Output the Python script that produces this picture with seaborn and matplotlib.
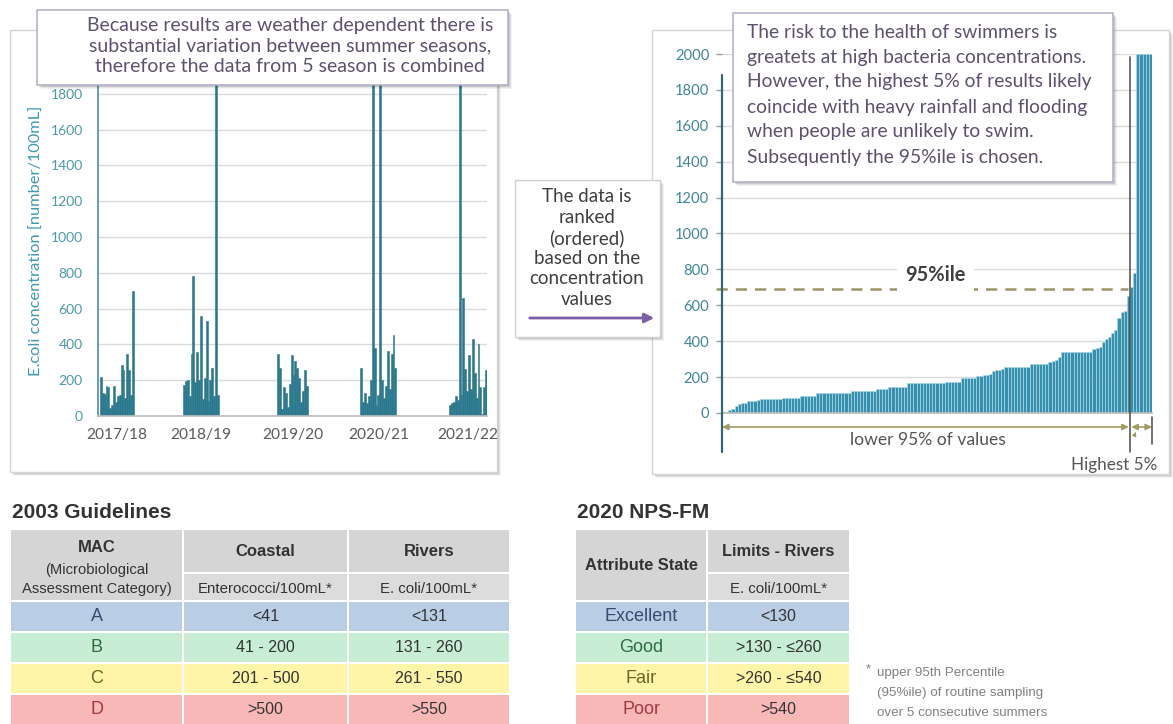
import numpy as np
import pandas as pd
import matplotlib
matplotlib.use("Agg")
import matplotlib.pyplot as plt
import seaborn as sns
from matplotlib.patches import Rectangle

# ---------------- data ----------------
seasons = ["2017/18", "2018/19", "2019/20", "2020/21", "2021/22"]
season_start_index = [1, 45, 95, 139, 186]
# E.coli results per sample (values above the axis cap shown as 2000)
ecoli_2017_18 = [220, 130, 125, 165, 160, 45, 60, 165, 80, 110, 115, 285, 255, 100, 345, 255, 120, 700]
ecoli_2018_19 = [175, 195, 200, 110, 345, 780, 190, 360, 200, 560, 95, 210, 530, 85, 200, 270, 110, 2000, 120]
ecoli_2019_20 = [345, 270, 40, 160, 130, 50, 180, 340, 230, 310, 270, 210, 80, 140, 255, 170]
ecoli_2020_21 = [270, 80, 130, 70, 110, 200, 2000, 380, 60, 120, 2000, 200, 100, 170, 365, 150, 345, 450, 270]
ecoli_2021_22 = [60, 70, 80, 110, 90, 2000, 120, 660, 260, 140, 340, 150, 430, 240, 100, 400, 160, 10, 160, 255]
season_values = [ecoli_2017_18, ecoli_2018_19, ecoli_2019_20, ecoli_2020_21, ecoli_2021_22]

ranked_values = [
    5, 8, 15, 25, 40, 50, 55, 55, 65, 65, 65, 70,
    80, 80, 80, 80, 80, 80, 80,
    85, 85, 85, 85, 85, 85,
    95, 95, 95, 95, 95,
    110, 110, 110, 110, 110, 110, 110, 110, 110, 110, 110,
    125, 125, 125, 125, 125, 125, 125, 125,
    135, 135, 135, 135,
    145, 145, 145, 145, 145, 145,
    165, 165, 165, 165, 165, 165, 165, 165, 165, 165, 165, 165,
    175, 175, 175, 175, 175,
    195, 195, 195, 195, 195,
    205, 205, 210, 210, 215,
    235, 240, 240, 245,
    255, 255, 255, 255, 255, 255, 255, 255,
    275, 275, 275, 275, 275, 275,
    285, 290, 295, 310,
    340, 340, 340, 340, 340, 340, 340, 340, 340, 340,
    355, 360, 365,
    395, 410, 425, 445, 460,
    530, 560, 570, 650,
    700, 780, 2000, 2000, 2000, 2000, 2000,
]
percentile_95 = 690
y_ticks_left = [0, 200, 400, 600, 800, 1000, 1200, 1400, 1600, 1800]
y_ticks_right = [0, 200, 400, 600, 800, 1000, 1200, 1400, 1600, 1800, 2000]

left_note = ["Because results are weather dependent there is",
             "substantial variation between summer seasons,",
             "therefore the data from 5 season is combined"]
right_note = ["The risk to the health of swimmers is",
              "greatets at high bacteria concentrations.",
              "However, the highest 5% of results likely",
              "coincide with heavy rainfall and flooding",
              "when people are unlikely to swim.",
              "Subsequently the 95%ile is chosen."]
middle_note = ["The data is", "ranked", "(ordered)", "based on the", "concentration", "values"]

mac_categories = ["A", "B", "C", "D"]
coastal_limits = ["<41", "41 - 200", "201 - 500", ">500"]
rivers_limits_2003 = ["<131", "131 - 260", "261 - 550", ">550"]
attribute_states = ["Excellent", "Good", "Fair", "Poor"]
rivers_limits_2020 = ["<130", ">130 - \u2264260", ">260 - \u2264540", ">540"]
footnote = ["upper 95th Percentile", "(95%ile) of routine sampling", "over 5 consecutive summers"]

# ---------------- style ----------------
sns.set_theme(style="white")
plt.rcParams["font.family"] = ["Lato", "DejaVu Sans"]
TABLE_FONT = ["Liberation Sans", "DejaVu Sans"]

W, H = 1173, 724
fig = plt.figure(figsize=(W / 100, H / 100), dpi=100)
fig.patch.set_facecolor("white")


def fx(px):
    return px / W


def fy(py):
    return 1 - py / H


def overlay(z):
    a = fig.add_axes([0, 0, 1, 1], zorder=z)
    a.set_xlim(0, W)
    a.set_ylim(H, 0)
    a.axis("off")
    return a


def box(a, x0, y0, x1, y1, ec, lw=1.0, shadow=True):
    if shadow:
        for k, al in ((4, 0.05), (3, 0.07), (2, 0.09)):
            a.add_patch(Rectangle((x0 + k, y0 + k), x1 - x0, y1 - y0, fc="black",
                                  alpha=al, ec="none", lw=0))
    a.add_patch(Rectangle((x0, y0), x1 - x0, y1 - y0, fc="white", ec=ec, lw=lw))


bg = overlay(-5)
box(bg, 10, 30, 497, 472, "#d4d4d4")
box(bg, 652, 30, 1169, 474, "#d4d4d4")

teal = "#2a788e"
teal_light = "#3690ad"
grid_c = "#dadada"

# ---------------- left chart ----------------
rows = []
for name, start, vals in zip(seasons, season_start_index, season_values):
    for i, v in enumerate(vals):
        rows.append((start + i, v, name))
df_left = pd.DataFrame(rows, columns=["idx", "value", "season"])

ax1 = fig.add_axes([fx(98), fy(416), (487 - 98) / W, (416 - 58) / H], zorder=1)
ax1.set_facecolor("none")
sns.barplot(data=df_left, x="idx", y="value", native_scale=True, color=teal,
            width=1.0, errorbar=None, saturation=1, edgecolor=teal, linewidth=0.4, ax=ax1)
ax1.set_xlim(-0.5, 205.5)
ax1.set_ylim(0, 2000)
ax1.set_yticks(y_ticks_left)
ax1.set_yticklabels([str(v) for v in y_ticks_left])
centers = [s + (len(v) - 1) / 2 for s, v in zip(season_start_index, season_values)]
ax1.set_xticks(centers)
ax1.set_xticklabels(seasons)
ax1.tick_params(axis="y", length=0, pad=11, labelsize=10, labelcolor="#4c98aa")
ax1.tick_params(axis="x", length=0, pad=9, labelsize=11.2, labelcolor="#5a5a5a")
ax1.yaxis.grid(True, color=grid_c, lw=1)
ax1.set_axisbelow(True)
for s in ["top", "right"]:
    ax1.spines[s].set_visible(False)
ax1.spines["left"].set_color("#4a90a2")
ax1.spines["left"].set_linewidth(1.2)
ax1.spines["bottom"].set_color("#bdbdbd")
ax1.set_xlabel("")
ax1.set_ylabel("E.coli concentration [number/100mL]", fontsize=11.8, color="#3f9ab0")
ax1.yaxis.set_label_coords((44 - 98) / (487 - 98), 0.49)

# ---------------- right chart ----------------
n = len(ranked_values)
split = int(round(0.95 * n))
df_right = pd.DataFrame({"rank": list(range(n)), "value": ranked_values})
ax2 = fig.add_axes([fx(722), fy(413), (1152 - 722) / W, (413 - 54) / H], zorder=1)
ax2.set_facecolor("none")
sns.barplot(data=df_right, x="rank", y="value", color=teal_light, width=1.0,
            errorbar=None, saturation=1, edgecolor="#a9d7e6", linewidth=0.5, ax=ax2)
ax2.set_xlim(-0.5, n - 0.5)
ax2.set_ylim(0, 2000)
ax2.set_yticks(y_ticks_right)
ax2.set_yticklabels([str(v) for v in y_ticks_right])
ax2.set_xticks([])
ax2.tick_params(axis="y", length=4, width=1, color="#9a9a9a", left=True, pad=5,
                labelsize=10.6, labelcolor="#3f8599")
ax2.yaxis.grid(True, color=grid_c, lw=1)
ax2.set_axisbelow(True)
for s in ["top", "right", "left"]:
    ax2.spines[s].set_visible(False)
ax2.spines["bottom"].set_color("#bdbdbd")
ax2.set_xlabel("")
ax2.set_ylabel("")

olive = "#a39c62"
ax2.plot([-0.5, -0.5], [-215, 1885], color="#2f6876", lw=1.6, clip_on=False, zorder=5)
ax2.plot([split - 0.5, split - 0.5], [-220, 1985], color="#4a4a4a", lw=1.1, clip_on=False, zorder=5)
ax2.plot([n - 0.5, n - 0.5], [-25, -170], color="#4a4a4a", lw=1.1, clip_on=False, zorder=5)
ax2.plot([-2.5, split - 1.2], [percentile_95, percentile_95], color="#9c9466", lw=1.8,
         dashes=(4.5, 3.2), clip_on=False, zorder=4)
ax2.text((split - 1) / 2 + 3, 770, "95%ile", ha="center", va="center", fontsize=14.4,
         fontweight="bold", color="#3f3f3f",
         bbox=dict(fc="white", ec="none", pad=6), zorder=6)
arrow_kw = dict(arrowstyle="<|-|>", color=olive, lw=1.2, shrinkA=0, shrinkB=0, mutation_scale=9)
ax2.annotate("", xy=(-0.5, -78), xytext=(split - 0.9, -78), arrowprops=arrow_kw,
             annotation_clip=False)
ax2.annotate("", xy=(split - 0.1, -78), xytext=(n - 0.5, -78), arrowprops=arrow_kw,
             annotation_clip=False)
ax2.annotate("", xy=(split + 1.6, -90), xytext=(split + 0.6, -140),
             arrowprops=dict(arrowstyle="-|>", color=olive, lw=0.8, mutation_scale=6),
             annotation_clip=False)
ax2.text((split - 1) / 2 + 0.5, -152, "lower 95% of values", ha="center", va="center",
         fontsize=12.6, color="#555555", clip_on=False)
ax2.text(n + 1.2, -292, "Highest 5%", ha="right", va="center", fontsize=12.3,
         color="#555555", clip_on=False)

# ---------------- foreground notes ----------------
fg = overlay(10)
note_c = "#5d5070"
box(fg, 37, 10, 508, 85, "#b3abc8", lw=1.1)
for i, line in enumerate(left_note):
    fg.text(290, 25 + i * 21, line, ha="center", va="center", fontsize=14, color=note_c)
box(fg, 733, 13, 1113, 182, "#b3abc8", lw=1.1)
for i, line in enumerate(right_note):
    fg.text(747, 32 + i * 25, line, ha="left", va="center", fontsize=13.9, color=note_c)
box(fg, 515, 180, 660, 337, "#cfcfcf", lw=1.0)
for i, line in enumerate(middle_note):
    fg.text(587, 197 + i * 20.5, line, ha="center", va="center", fontsize=13.5, color="#3f3f3f")
fg.annotate("", xy=(657, 318), xytext=(527, 318),
            arrowprops=dict(arrowstyle="-|>", color="#7b5da8", lw=2, mutation_scale=14))

# ---------------- tables ----------------
hdr_c = "#d5d5d5"
sub_c = "#dcdcdc"
row_colors = ["#b9cde5", "#c7eed5", "#fff5a8", "#f8b8b8"]
cat_text_colors = ["#364b70", "#2f6a3f", "#6b6428", "#9c3c3c"]
row_tops = [602, 633, 664, 695]
row_h = 29
g = 1.0


def cell(x0, x1, y0, y1, color):
    fg.add_patch(Rectangle((x0 + g, y0), x1 - x0 - 2 * g, y1 - y0, fc=color, ec="none"))


def ttext(x, y, s, size=11, bold=False, color="#333333"):
    fg.text(x, y, s, ha="center", va="center", fontsize=size,
            fontweight="bold" if bold else "normal", color=color, family=TABLE_FONT)


fg.text(12, 513, "2003 Guidelines", ha="left", va="center", fontsize=15, fontweight="bold",
        color="#333333", family=TABLE_FONT)
fg.text(577, 513, "2020 NPS-FM", ha="left", va="center", fontsize=15, fontweight="bold",
        color="#333333", family=TABLE_FONT)

# table 1
c1 = [10, 183, 348, 510]
cell(c1[0], c1[1], 530, 600, hdr_c)
for j in (1, 2):
    cell(c1[j], c1[j + 1], 530, 572, hdr_c)
    cell(c1[j], c1[j + 1], 574, 600, sub_c)
ttext((c1[0] + c1[1]) / 2, 547, "MAC", 12, True)
ttext((c1[0] + c1[1]) / 2, 570, "(Microbiological", 10.6)
ttext((c1[0] + c1[1]) / 2, 589, "Assessment Category)", 10.6)
ttext((c1[1] + c1[2]) / 2, 552, "Coastal", 12, True)
ttext((c1[1] + c1[2]) / 2, 589, "Enterococci/100mL*", 10.8)
ttext((c1[2] + c1[3]) / 2, 552, "Rivers", 12, True)
ttext((c1[2] + c1[3]) / 2, 589, "E. coli/100mL*", 10.8)
for i in range(4):
    y0 = row_tops[i]
    for j in range(3):
        cell(c1[j], c1[j + 1], y0, y0 + row_h, row_colors[i])
    yc = y0 + row_h / 2
    ttext((c1[0] + c1[1]) / 2, yc, mac_categories[i], 13, color=cat_text_colors[i])
    ttext((c1[1] + c1[2]) / 2, yc, coastal_limits[i], 11.5)
    ttext((c1[2] + c1[3]) / 2, yc, rivers_limits_2003[i], 11.5)

# table 2
c2 = [575, 707, 850]
cell(c2[0], c2[1], 530, 600, hdr_c)
cell(c2[1], c2[2], 530, 572, hdr_c)
cell(c2[1], c2[2], 574, 600, sub_c)
ttext((c2[0] + c2[1]) / 2, 565, "Attribute State", 11.8, True)
ttext((c2[1] + c2[2]) / 2, 552, "Limits - Rivers", 11.8, True)
ttext((c2[1] + c2[2]) / 2, 589, "E. coli/100mL*", 10.8)
for i in range(4):
    y0 = row_tops[i]
    for j in range(2):
        cell(c2[j], c2[j + 1], y0, y0 + row_h, row_colors[i])
    yc = y0 + row_h / 2
    ttext((c2[0] + c2[1]) / 2, yc, attribute_states[i], 13, color=cat_text_colors[i])
    ttext((c2[1] + c2[2]) / 2, yc, rivers_limits_2020[i], 11.5)

# footnote
fg.text(866, 669, "*", ha="left", va="center", fontsize=9.6, color="#808080", family=TABLE_FONT)
for i, line in enumerate(footnote):
    fg.text(877, 673 + i * 20, line, ha="left", va="center", fontsize=9.6,
            color="#808080", family=TABLE_FONT)

fig.savefig("out.png", dpi=100, facecolor="white")
